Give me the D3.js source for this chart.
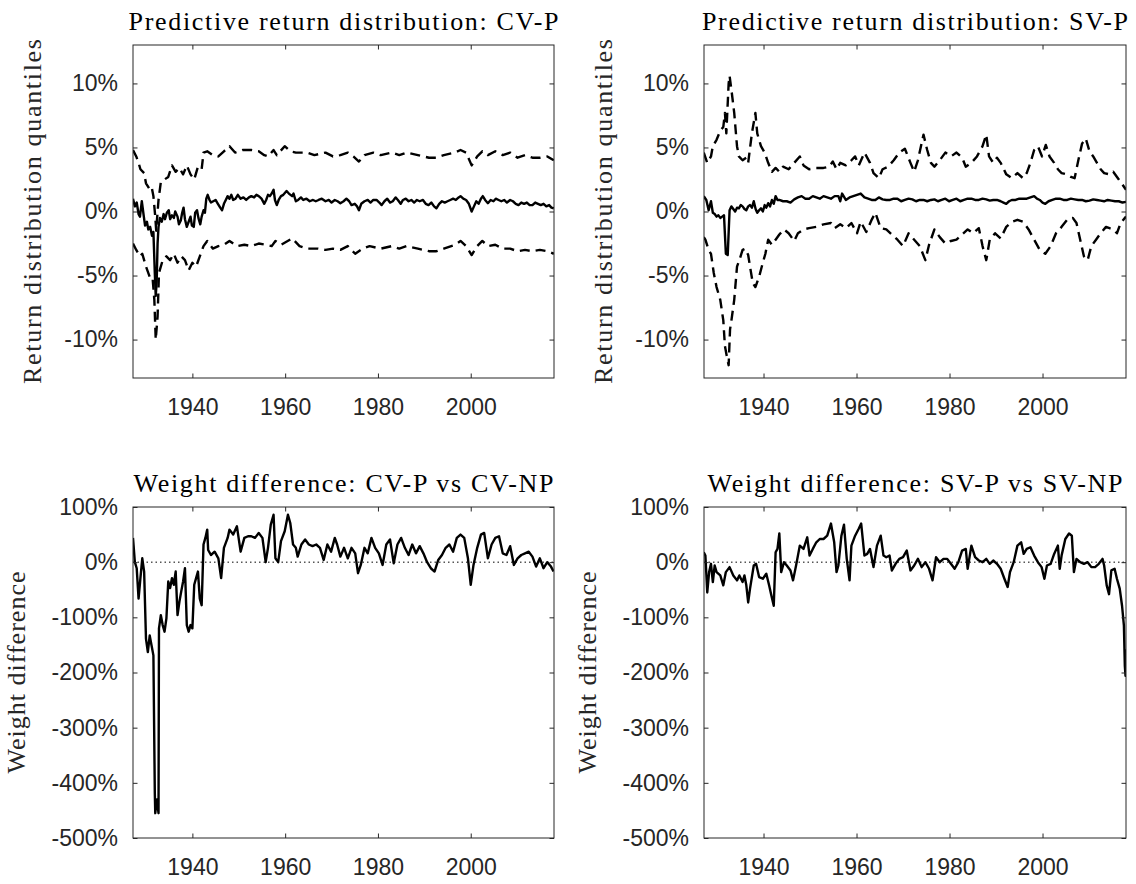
<!DOCTYPE html>
<html>
<head>
<meta charset="utf-8">
<script src="https://cdn.jsdelivr.net/npm/d3@7"></script>
<style>
  body { margin: 0; background: #fff; }
  svg { display: block; }
</style>
</head>
<body>
<div id="chart"></div>
<script>
// tick values
const yearTicks = [1940, 1960, 1980, 2000];
const quantileTicks = [-10, -5, 0, 5, 10];
const weightTicks = [-500, -400, -300, -200, -100, 0, 100];

// predictive return quantiles, CV-P model (year, %)
const cvMedian = [[1927.2,1.0],[1927.6,0.4],[1928.0,0.7],[1928.4,-0.2],[1928.7,-0.4],[1929.1,0.8],[1929.5,-0.3],[1929.8,-1.1],[1930.2,-0.8],[1930.5,-1.4],[1930.9,-1.2],[1931.3,-1.9],[1931.6,-1.6],[1931.9,-4.8],[1932.1,-6.6],[1932.3,-5.5],[1932.5,-2.5],[1932.7,-1.2],[1933.0,-0.5],[1933.4,-0.8],[1933.8,-0.2],[1934.1,-0.6],[1934.5,-0.1],[1934.9,0.1],[1935.2,-0.6],[1935.6,-0.3],[1936.0,-0.5],[1936.3,0.0],[1936.8,-0.4],[1937.1,-1.0],[1937.5,-0.7],[1937.8,-0.1],[1938.1,0.3],[1938.4,-0.6],[1938.8,-1.2],[1939.2,-0.8],[1939.6,-0.4],[1939.9,-1.1],[1940.3,-1.2],[1940.6,-0.1],[1941.0,0.1],[1941.3,-0.5],[1941.7,-1.0],[1942.0,-0.4],[1942.4,0.1],[1942.7,-0.1],[1943.0,1.0],[1943.3,1.3],[1943.7,0.9],[1944.0,0.7],[1944.5,0.8],[1945.0,0.9],[1945.5,0.6],[1946.0,0.3],[1946.4,0.1],[1946.8,0.6],[1947.2,0.9],[1947.6,1.2],[1948.0,1.0],[1948.4,1.3],[1948.8,0.9],[1949.3,1.0],[1949.8,1.3],[1950.4,1.0],[1951.0,1.1],[1951.6,0.9],[1952.2,1.1],[1952.7,1.2],[1953.3,1.1],[1953.8,1.3],[1954.3,1.2],[1954.9,1.0],[1955.5,0.6],[1955.9,0.9],[1956.3,1.3],[1956.7,1.2],[1957.1,1.4],[1957.5,1.7],[1957.8,0.9],[1958.2,0.5],[1958.6,0.9],[1959.1,1.2],[1959.6,1.3],[1960.3,1.6],[1960.8,1.4],[1961.5,1.2],[1961.8,1.4],[1962.3,0.8],[1962.8,0.9],[1963.4,1.1],[1963.9,0.9],[1964.6,1.0],[1965.3,0.8],[1966.0,0.9],[1966.6,0.8],[1967.2,0.9],[1967.9,1.0],[1968.7,0.8],[1969.4,0.9],[1970.0,0.7],[1970.7,0.9],[1971.3,0.8],[1971.9,0.65],[1972.6,0.8],[1973.2,1.0],[1973.8,0.8],[1974.3,0.5],[1975.0,0.6],[1975.5,0.4],[1975.9,0.1],[1976.4,0.6],[1977.1,0.8],[1977.8,0.9],[1978.4,0.7],[1979.0,0.9],[1979.7,0.9],[1980.3,0.7],[1980.8,0.5],[1981.4,0.8],[1982.0,1.0],[1982.6,0.7],[1983.2,0.8],[1983.8,1.1],[1984.3,0.9],[1984.9,0.6],[1985.4,0.9],[1986.0,1.0],[1986.6,0.8],[1987.2,0.9],[1987.8,0.7],[1988.4,0.9],[1989.0,0.8],[1989.7,0.9],[1990.3,0.6],[1990.9,0.5],[1991.5,0.7],[1992.1,0.4],[1992.6,0.25],[1993.2,0.6],[1993.8,0.8],[1994.4,0.7],[1995.0,0.8],[1995.6,0.9],[1996.2,1.0],[1996.8,0.9],[1997.4,1.1],[1997.8,1.2],[1998.4,1.0],[1999.0,0.9],[1999.6,0.6],[2000.2,0.0],[2000.7,0.4],[2001.2,0.8],[2001.7,0.6],[2002.2,1.0],[2002.6,1.2],[2003.1,0.9],[2003.7,0.65],[2004.3,0.9],[2004.9,0.8],[2005.4,1.0],[2006.0,0.9],[2006.6,0.8],[2007.2,0.9],[2007.8,0.7],[2008.5,0.9],[2009.1,0.8],[2009.7,0.6],[2010.3,0.5],[2010.9,0.7],[2011.5,0.6],[2012.1,0.7],[2012.7,0.5],[2013.3,0.5],[2013.9,0.7],[2014.5,0.6],[2015.1,0.5],[2015.7,0.6],[2016.3,0.4],[2016.9,0.5],[2017.4,0.3],[2017.9,0.25]];
const cvUpper = [[1927.2,4.8],[1927.9,4.3],[1928.4,3.8],[1928.8,3.3],[1929.6,3.0],[1930.0,2.2],[1930.7,1.8],[1931.2,1.95],[1931.6,1.2],[1932.0,-0.4],[1932.2,-1.5],[1932.4,-0.5],[1932.7,0.9],[1933.2,2.3],[1934.0,2.5],[1934.8,2.7],[1935.6,3.6],[1936.4,3.1],[1937.2,3.4],[1938.0,2.9],[1938.8,3.6],[1939.6,2.9],[1940.4,2.5],[1941.2,3.5],[1942.0,3.3],[1942.4,4.6],[1943.2,4.7],[1944.4,4.4],[1945.6,4.3],[1946.8,4.7],[1948.0,5.1],[1949.2,4.6],[1950.8,4.8],[1952.7,4.8],[1954.3,4.7],[1955.5,4.4],[1956.3,4.3],[1957.5,4.8],[1958.2,4.4],[1959.9,5.1],[1961.1,4.7],[1962.3,4.6],[1964.7,4.6],[1966.3,4.4],[1968.7,4.6],[1970.3,4.3],[1971.9,4.4],[1973.5,4.6],[1974.7,4.3],[1975.9,3.9],[1977.1,4.4],[1979.0,4.6],[1980.6,4.4],[1983.0,4.6],[1984.6,4.4],[1986.2,4.6],[1988.6,4.4],[1991.0,4.2],[1992.6,4.2],[1994.2,4.4],[1996.6,4.6],[1997.8,4.8],[1999.0,4.6],[2000.2,3.6],[2001.4,4.3],[2002.5,4.7],[2003.7,4.4],[2005.3,4.7],[2006.9,4.4],[2008.5,4.6],[2010.1,4.2],[2011.7,4.4],[2013.3,4.2],[2014.9,4.2],[2016.5,4.3],[2017.9,4.0]];
const cvLower = [[1927.2,-2.5],[1927.9,-3.0],[1928.7,-3.5],[1929.2,-3.3],[1930.0,-4.3],[1930.8,-5.1],[1931.4,-5.1],[1931.8,-6.9],[1932.1,-10.0],[1932.5,-8.2],[1932.8,-4.8],[1933.6,-3.8],[1934.4,-3.5],[1935.2,-3.8],[1936.0,-3.3],[1936.8,-4.0],[1937.6,-3.5],[1938.4,-3.8],[1939.2,-4.6],[1940.0,-4.0],[1940.8,-4.3],[1941.6,-3.5],[1942.4,-2.7],[1943.2,-2.3],[1944.4,-2.9],[1945.6,-2.7],[1946.8,-2.6],[1948.0,-2.3],[1949.6,-2.7],[1951.2,-2.6],[1952.7,-2.7],[1954.3,-2.5],[1955.9,-2.6],[1957.1,-2.7],[1957.9,-2.3],[1959.1,-2.6],[1961.5,-2.1],[1963.1,-2.7],[1964.7,-2.9],[1967.1,-2.9],[1968.7,-3.0],[1970.3,-2.9],[1971.9,-3.0],[1973.5,-2.7],[1975.1,-3.3],[1976.7,-2.9],[1978.2,-2.7],[1980.6,-2.9],[1983.0,-2.7],[1984.6,-2.9],[1986.2,-2.7],[1988.6,-2.9],[1991.0,-3.1],[1992.6,-3.1],[1994.2,-2.9],[1996.6,-2.6],[1997.8,-2.3],[1999.0,-2.7],[2000.2,-3.4],[2001.4,-2.7],[2002.5,-2.3],[2003.7,-2.7],[2005.3,-2.6],[2006.9,-2.9],[2008.5,-2.9],[2010.1,-3.1],[2011.7,-3.0],[2013.3,-3.1],[2014.9,-3.0],[2016.5,-3.1],[2017.9,-3.3]];

// predictive return quantiles, SV-P model (year, %)
const svMedian = [[1927.15,1.2],[1927.7,0.9],[1928.2,0.1],[1928.7,0.8],[1929.1,-0.1],[1929.5,-0.2],[1929.9,-0.4],[1930.3,-0.3],[1930.7,-0.5],[1931.1,-0.4],[1931.5,-0.3],[1931.9,-3.3],[1932.3,-3.4],[1932.7,0.1],[1933.1,0.4],[1933.5,0.2],[1933.9,0.0],[1934.3,0.3],[1934.7,0.25],[1935.1,0.5],[1935.5,0.4],[1935.9,0.2],[1936.3,0.1],[1936.7,0.4],[1937.1,0.5],[1937.5,0.3],[1937.9,0.8],[1938.3,0.2],[1938.65,-0.1],[1939.05,0.1],[1939.45,0.25],[1939.85,0.0],[1940.25,0.5],[1940.6,0.3],[1941.0,0.65],[1941.4,0.4],[1941.8,0.9],[1942.2,0.6],[1942.6,1.2],[1943.0,0.9],[1943.4,0.9],[1944.2,0.8],[1945.0,0.8],[1945.8,0.7],[1946.6,0.95],[1947.4,1.1],[1948.2,1.2],[1949.0,1.0],[1949.8,1.0],[1950.6,1.2],[1951.35,1.1],[1952.1,1.0],[1952.9,1.2],[1953.7,1.1],[1954.5,1.0],[1955.3,1.2],[1956.1,1.2],[1956.5,0.8],[1956.9,1.4],[1957.7,0.9],[1958.5,1.1],[1959.3,1.2],[1960.1,1.3],[1960.9,1.4],[1961.7,1.1],[1962.5,1.0],[1963.25,0.9],[1964.05,0.9],[1964.8,1.1],[1965.6,0.95],[1966.4,0.9],[1967.2,0.9],[1968.0,1.0],[1968.8,1.0],[1969.6,0.8],[1970.4,0.9],[1971.2,1.0],[1972.0,0.95],[1972.8,0.8],[1973.6,0.9],[1974.4,0.9],[1975.2,0.8],[1976.0,0.9],[1976.75,0.95],[1977.5,0.8],[1978.3,0.9],[1979.1,1.0],[1979.9,0.8],[1980.7,0.9],[1981.5,1.0],[1982.3,0.8],[1983.1,0.9],[1983.9,1.0],[1984.7,1.0],[1985.5,0.9],[1986.3,0.9],[1987.1,1.0],[1987.9,0.95],[1988.65,0.85],[1989.4,0.9],[1990.2,0.9],[1991.0,0.8],[1991.6,0.7],[1992.2,0.6],[1992.8,0.8],[1993.4,0.9],[1994.2,0.9],[1995.0,1.0],[1995.8,1.0],[1996.6,1.0],[1997.4,1.1],[1998.2,1.2],[1998.8,1.0],[1999.4,0.9],[2000.0,0.7],[2000.6,0.6],[2001.3,0.8],[2002.1,0.9],[2002.9,1.0],[2003.7,1.0],[2004.5,0.9],[2005.3,0.9],[2006.1,1.0],[2006.9,0.95],[2007.7,0.9],[2008.5,0.9],[2009.3,0.8],[2010.1,0.85],[2010.9,0.95],[2011.7,0.9],[2012.5,0.85],[2013.25,0.8],[2014.0,0.9],[2014.8,0.85],[2015.6,0.8],[2016.4,0.8],[2017.2,0.7],[2017.95,0.75]];
const svUpper = [[1927.15,4.6],[1927.9,3.8],[1928.7,4.3],[1929.1,5.1],[1929.9,5.6],[1930.7,6.3],[1931.35,6.6],[1931.7,7.7],[1932.0,6.1],[1932.5,10.0],[1932.7,10.6],[1933.1,9.5],[1933.7,7.7],[1934.3,5.1],[1934.7,4.3],[1935.5,4.0],[1936.3,4.2],[1936.7,3.8],[1937.5,6.1],[1938.25,7.7],[1938.65,6.1],[1939.45,5.1],[1940.25,4.6],[1941.0,3.8],[1941.8,3.1],[1942.6,3.4],[1943.4,3.1],[1944.2,3.5],[1945.4,3.3],[1946.6,3.8],[1947.8,4.3],[1948.6,3.6],[1949.8,3.3],[1951.35,3.4],[1952.9,3.4],[1954.1,3.5],[1954.9,3.9],[1955.7,3.3],[1956.5,3.8],[1957.7,3.6],[1958.9,4.0],[1959.7,4.3],[1960.5,3.6],[1961.7,4.6],[1962.9,3.8],[1963.65,3.0],[1964.8,2.6],[1965.6,3.3],[1966.8,3.5],[1968.0,4.0],[1969.2,4.6],[1970.4,4.9],[1971.6,3.8],[1972.4,3.1],[1973.2,4.0],[1974.4,6.0],[1975.2,4.8],[1976.0,3.8],[1976.75,3.5],[1977.9,4.0],[1979.1,4.6],[1980.3,4.3],[1981.5,4.6],[1982.7,4.2],[1983.5,3.5],[1984.7,3.8],[1985.9,4.3],[1987.1,5.1],[1987.9,6.0],[1988.5,4.3],[1989.4,3.8],[1990.2,4.2],[1991.0,3.8],[1992.2,2.9],[1993.4,2.6],[1994.6,3.0],[1995.8,2.6],[1996.6,3.0],[1997.4,3.8],[1998.2,4.8],[1999.0,5.1],[1999.9,4.3],[2000.7,5.2],[2001.5,4.3],[2002.5,3.8],[2003.3,3.3],[2004.1,3.0],[2005.2,2.9],[2006.1,2.7],[2006.9,2.6],[2007.7,4.0],[2008.5,5.3],[2009.3,5.7],[2010.1,4.7],[2010.9,4.3],[2011.7,3.8],[2012.5,3.3],[2013.25,3.0],[2014.4,2.9],[2015.2,3.1],[2016.4,2.5],[2017.2,2.1],[2017.95,1.7]];
const svLower = [[1927.15,-2.0],[1927.5,-2.2],[1928.2,-3.0],[1928.7,-3.3],[1929.3,-4.8],[1929.9,-5.9],[1930.7,-6.9],[1931.35,-8.5],[1931.7,-10.5],[1932.1,-11.3],[1932.5,-12.0],[1932.8,-9.2],[1933.1,-8.5],[1933.7,-6.9],[1934.3,-4.3],[1934.8,-3.8],[1935.5,-3.0],[1936.1,-2.9],[1936.7,-3.4],[1937.1,-4.3],[1937.7,-5.6],[1938.25,-5.9],[1939.05,-5.1],[1939.85,-4.0],[1940.4,-3.3],[1941.0,-2.2],[1941.8,-2.6],[1942.6,-2.2],[1943.4,-1.8],[1944.4,-1.4],[1945.4,-1.7],[1946.6,-2.3],[1947.4,-1.7],[1948.6,-1.4],[1949.8,-1.3],[1951.35,-1.2],[1952.9,-1.0],[1954.5,-0.9],[1955.3,-1.3],[1956.5,-1.0],[1957.7,-1.3],[1958.9,-0.9],[1960.1,-1.7],[1960.9,-0.8],[1962.1,-1.6],[1963.25,-0.65],[1964.05,-0.1],[1965.2,-1.3],[1966.4,-1.4],[1967.6,-1.8],[1968.8,-2.2],[1970.0,-2.7],[1971.2,-1.7],[1972.4,-2.2],[1973.6,-2.7],[1974.8,-3.8],[1975.6,-2.6],[1976.75,-1.4],[1977.9,-2.0],[1979.1,-2.5],[1980.3,-2.3],[1981.5,-2.2],[1982.7,-1.8],[1983.9,-1.4],[1985.1,-1.7],[1986.3,-1.3],[1987.1,-2.7],[1987.9,-3.8],[1988.65,-2.2],[1989.8,-1.7],[1991.0,-2.1],[1992.2,-1.2],[1993.4,-0.8],[1994.6,-0.65],[1995.8,-0.8],[1997.0,-1.4],[1998.2,-2.2],[1999.4,-3.0],[2000.6,-3.3],[2001.75,-2.7],[2002.9,-1.7],[2004.1,-1.2],[2005.3,-0.65],[2006.5,-0.5],[2007.3,-0.9],[2008.1,-2.2],[2008.9,-3.5],[2009.7,-3.8],[2010.5,-2.7],[2011.5,-2.2],[2012.5,-1.7],[2013.65,-1.2],[2014.4,-1.3],[2015.2,-1.4],[2016.0,-1.7],[2016.8,-0.9],[2017.95,-0.4]];

// portfolio weight differences (year, %)
const cvWeightDiff = [[1927.2,44],[1927.6,0],[1928.0,-11],[1928.4,-66],[1928.8,-29],[1929.2,7],[1929.6,-17],[1930.0,-139],[1930.4,-163],[1930.8,-133],[1931.2,-151],[1931.6,-169],[1931.9,-418],[1932.0,-455],[1932.35,-430],[1932.7,-455],[1932.8,-120],[1933.2,-96],[1933.6,-114],[1934.0,-126],[1934.4,-102],[1934.8,-35],[1935.2,-47],[1935.6,-29],[1936.0,-41],[1936.4,-17],[1936.8,-96],[1937.2,-72],[1937.6,-53],[1938.0,-35],[1938.4,-11],[1938.8,-114],[1939.2,-126],[1939.6,-114],[1940.0,-120],[1940.4,-41],[1940.8,-29],[1941.2,-17],[1941.6,-66],[1942.0,-78],[1942.4,32],[1942.8,44],[1943.2,59],[1943.4,22],[1944.0,13],[1944.8,19],[1945.6,7],[1946.2,-29],[1946.8,26],[1947.6,44],[1948.0,59],[1948.8,50],[1949.6,65],[1950.4,19],[1951.2,44],[1952.0,47],[1952.7,47],[1953.5,44],[1954.3,53],[1955.1,44],[1955.8,0],[1956.3,26],[1956.9,68],[1957.5,86],[1957.9,7],[1958.5,0],[1959.1,38],[1959.9,56],[1960.6,86],[1961.1,71],[1961.7,32],[1962.3,26],[1962.7,10],[1963.5,32],[1964.3,41],[1965.1,32],[1965.9,29],[1966.7,32],[1967.5,26],[1968.3,4],[1969.1,32],[1969.9,19],[1970.7,44],[1971.2,32],[1971.9,10],[1972.7,26],[1973.5,7],[1974.3,26],[1975.1,16],[1975.7,-20],[1976.3,-5],[1977.1,26],[1977.8,16],[1978.6,44],[1979.4,26],[1980.2,16],[1981.0,-5],[1981.8,32],[1982.6,41],[1983.4,-2],[1984.2,32],[1985.0,44],[1985.8,26],[1986.6,13],[1987.4,32],[1988.2,16],[1989.0,29],[1989.8,16],[1990.6,0],[1991.4,-11],[1992.2,-17],[1993.0,4],[1993.8,13],[1994.6,26],[1995.4,32],[1996.2,19],[1997.0,44],[1997.8,50],[1998.6,44],[1999.4,7],[2000.0,-41],[2000.6,-5],[2001.4,26],[2002.2,50],[2002.9,53],[2003.7,7],[2004.5,32],[2005.3,44],[2006.1,47],[2006.9,16],[2007.7,13],[2008.5,29],[2009.3,-5],[2010.1,7],[2010.9,13],[2011.7,16],[2012.5,19],[2013.3,10],[2014.1,-8],[2014.9,7],[2015.7,-11],[2016.5,0],[2017.3,-8],[2017.85,-17]];
const svWeightDiff = [[1927.15,18],[1927.5,12],[1927.9,-55],[1928.3,-18],[1928.7,-3],[1929.1,-36],[1929.5,-6],[1929.9,-18],[1930.7,-24],[1931.35,-42],[1931.9,-18],[1932.7,-9],[1933.5,-24],[1934.3,-33],[1934.8,-24],[1935.5,-36],[1935.9,-24],[1936.3,-42],[1936.7,-73],[1937.1,-48],[1937.9,-6],[1938.4,-3],[1939.05,-27],[1939.85,-30],[1940.6,-21],[1941.2,-42],[1941.7,-61],[1942.2,-79],[1942.6,18],[1943.0,24],[1943.4,52],[1943.8,-18],[1944.4,0],[1945.0,-6],[1945.8,-15],[1946.35,-33],[1947.0,-6],[1947.8,30],[1948.6,24],[1949.4,45],[1949.9,12],[1950.6,24],[1951.35,36],[1952.1,42],[1952.9,42],[1953.7,48],[1954.5,70],[1955.2,36],[1955.7,-18],[1956.1,-6],[1956.75,48],[1957.3,68],[1957.9,6],[1958.5,-33],[1958.9,30],[1959.7,48],[1960.5,61],[1961.0,70],[1961.7,12],[1962.3,15],[1962.9,24],[1963.65,-9],[1964.4,30],[1965.2,48],[1965.8,12],[1966.4,9],[1967.1,12],[1967.6,-15],[1968.4,-3],[1969.2,6],[1970.0,9],[1970.8,21],[1971.6,-15],[1972.4,-6],[1973.2,6],[1974.0,-9],[1974.8,0],[1975.6,-12],[1976.35,-33],[1977.1,9],[1977.9,0],[1978.7,6],[1979.5,6],[1980.3,-3],[1981.1,-12],[1981.9,0],[1982.7,21],[1983.5,24],[1983.9,-12],[1984.7,30],[1985.5,9],[1986.3,3],[1987.1,0],[1987.9,6],[1988.65,-3],[1989.4,3],[1990.2,-3],[1991.0,-12],[1991.8,-30],[1992.5,-45],[1993.0,-18],[1993.8,0],[1994.6,30],[1995.4,36],[1995.95,15],[1996.6,24],[1997.4,27],[1998.2,12],[1999.0,0],[1999.8,-9],[2000.4,-30],[2000.95,-6],[2001.75,-3],[2002.5,15],[2003.3,30],[2003.7,-12],[2004.1,12],[2004.9,42],[2005.7,52],[2006.3,48],[2006.75,-18],[2007.3,6],[2008.1,0],[2008.9,-3],[2009.7,0],[2010.5,-9],[2011.3,-9],[2012.1,-3],[2012.9,6],[2013.25,-6],[2013.8,-42],[2014.3,-58],[2014.8,-15],[2015.5,-12],[2016.0,-30],[2016.6,-48],[2017.1,-79],[2017.5,-115],[2017.7,-188],[2017.85,-206],[2017.95,-158]];

const width = 1136;
const height = 884;
const axisColor = '#262626';
const xDomain = [1927.2, 2017.95];

const panels = [
    {
        id: 'cvq', left: 133, right: 554, top: 45, bottom: 378,
        yDomain: [-13, 13], yTicks: quantileTicks,
        title: 'Predictive return distribution: CV-P', titleWidth: 430,
        ylabel: 'Return distribution quantiles', ylabelX: 41, ylabelWidth: 345,
        lines: [
            { data: cvUpper, dashed: true },
            { data: cvLower, dashed: true },
            { data: cvMedian, dashed: false },
        ],
    },
    {
        id: 'svq', left: 704, right: 1126, top: 45, bottom: 378,
        yDomain: [-13, 13], yTicks: quantileTicks,
        title: 'Predictive return distribution: SV-P', titleWidth: 426,
        ylabel: 'Return distribution quantiles', ylabelX: 612, ylabelWidth: 345,
        lines: [
            { data: svUpper, dashed: true },
            { data: svLower, dashed: true },
            { data: svMedian, dashed: false },
        ],
    },
    {
        id: 'cvw', left: 133, right: 554, top: 507, bottom: 838,
        yDomain: [-500, 100], yTicks: weightTicks, zeroLine: true,
        title: 'Weight difference: CV-P vs CV-NP', titleWidth: 420,
        ylabel: 'Weight difference', ylabelX: 25, ylabelWidth: 202,
        lines: [{ data: cvWeightDiff, dashed: false }],
    },
    {
        id: 'svw', left: 704, right: 1126, top: 507, bottom: 838,
        yDomain: [-500, 100], yTicks: weightTicks, zeroLine: true,
        title: 'Weight difference: SV-P vs SV-NP', titleWidth: 415,
        ylabel: 'Weight difference', ylabelX: 596, ylabelWidth: 202,
        lines: [{ data: svWeightDiff, dashed: false }],
    },
];

const svg = d3
    .select('#chart')
    .append('svg')
    .attr('width', width)
    .attr('height', height);

function drawPanel(p) {
    const x = d3.scaleLinear().domain(xDomain).range([p.left, p.right]);
    const y = d3.scaleLinear().domain(p.yDomain).range([p.bottom, p.top]);
    const g = svg.append('g');

    g.append('clipPath')
        .attr('id', 'clip-' + p.id)
        .append('rect')
        .attr('x', p.left)
        .attr('y', p.top)
        .attr('width', p.right - p.left)
        .attr('height', p.bottom - p.top);

    // dotted zero reference
    if (p.zeroLine) {
        g.append('line')
            .attr('x1', p.left)
            .attr('x2', p.right)
            .attr('y1', y(0))
            .attr('y2', y(0))
            .attr('stroke', '#000')
            .attr('stroke-width', 1)
            .attr('stroke-dasharray', '1.5,3');
    }

    const line = d3.line().x((d) => x(d[0])).y((d) => y(d[1]));
    const plot = g.append('g').attr('clip-path', `url(#clip-${p.id})`);
    p.lines.forEach((s) => {
        plot.append('path')
            .datum(s.data)
            .attr('d', line)
            .attr('fill', 'none')
            .attr('stroke', '#000')
            .attr('stroke-width', 2.4)
            .attr('stroke-linejoin', 'round')
            .attr('stroke-dasharray', s.dashed ? '10,6' : null);
    });

    // axes with inward ticks on all four sides
    const tick = -4.5;
    const pct = (d) => d + '%';
    const axes = [
        g.append('g').attr('transform', `translate(0,${p.bottom})`)
            .call(d3.axisBottom(x).tickValues(yearTicks).tickSize(tick).tickPadding(21).tickFormat(d3.format('d'))),
        g.append('g').attr('transform', `translate(${p.left},0)`)
            .call(d3.axisLeft(y).tickValues(p.yTicks).tickSize(tick).tickPadding(15).tickFormat(pct)),
        g.append('g').attr('transform', `translate(0,${p.top})`)
            .call(d3.axisTop(x).tickValues(yearTicks).tickSize(tick).tickFormat('')),
        g.append('g').attr('transform', `translate(${p.right},0)`)
            .call(d3.axisRight(y).tickValues(p.yTicks).tickSize(tick).tickFormat('')),
    ];
    axes.forEach((a) => {
        a.select('.domain').remove();
        a.selectAll('line').attr('stroke', axisColor).attr('stroke-width', 1);
        a.selectAll('text')
            .attr('fill', axisColor)
            .style('font-family', '"Liberation Sans", Arial, sans-serif')
            .style('font-size', '23px');
    });

    g.append('rect')
        .attr('x', p.left)
        .attr('y', p.top)
        .attr('width', p.right - p.left)
        .attr('height', p.bottom - p.top)
        .attr('fill', 'none')
        .attr('stroke', axisColor)
        .attr('stroke-width', 1);

    g.append('text')
        .attr('x', (p.left + p.right) / 2)
        .attr('y', p.top - 15)
        .attr('text-anchor', 'middle')
        .attr('textLength', p.titleWidth)
        .attr('lengthAdjust', 'spacing')
        .style('font-family', '"Liberation Serif", "Times New Roman", serif')
        .style('font-size', '26px')
        .attr('fill', '#000')
        .text(p.title);

    g.append('text')
        .attr('transform', `translate(${p.ylabelX},${(p.top + p.bottom) / 2}) rotate(-90)`)
        .attr('text-anchor', 'middle')
        .attr('textLength', p.ylabelWidth)
        .attr('lengthAdjust', 'spacing')
        .style('font-family', '"Liberation Serif", "Times New Roman", serif')
        .style('font-size', '26px')
        .attr('fill', '#262626')
        .text(p.ylabel);
}

panels.forEach(drawPanel);
</script>
</body>
</html>
